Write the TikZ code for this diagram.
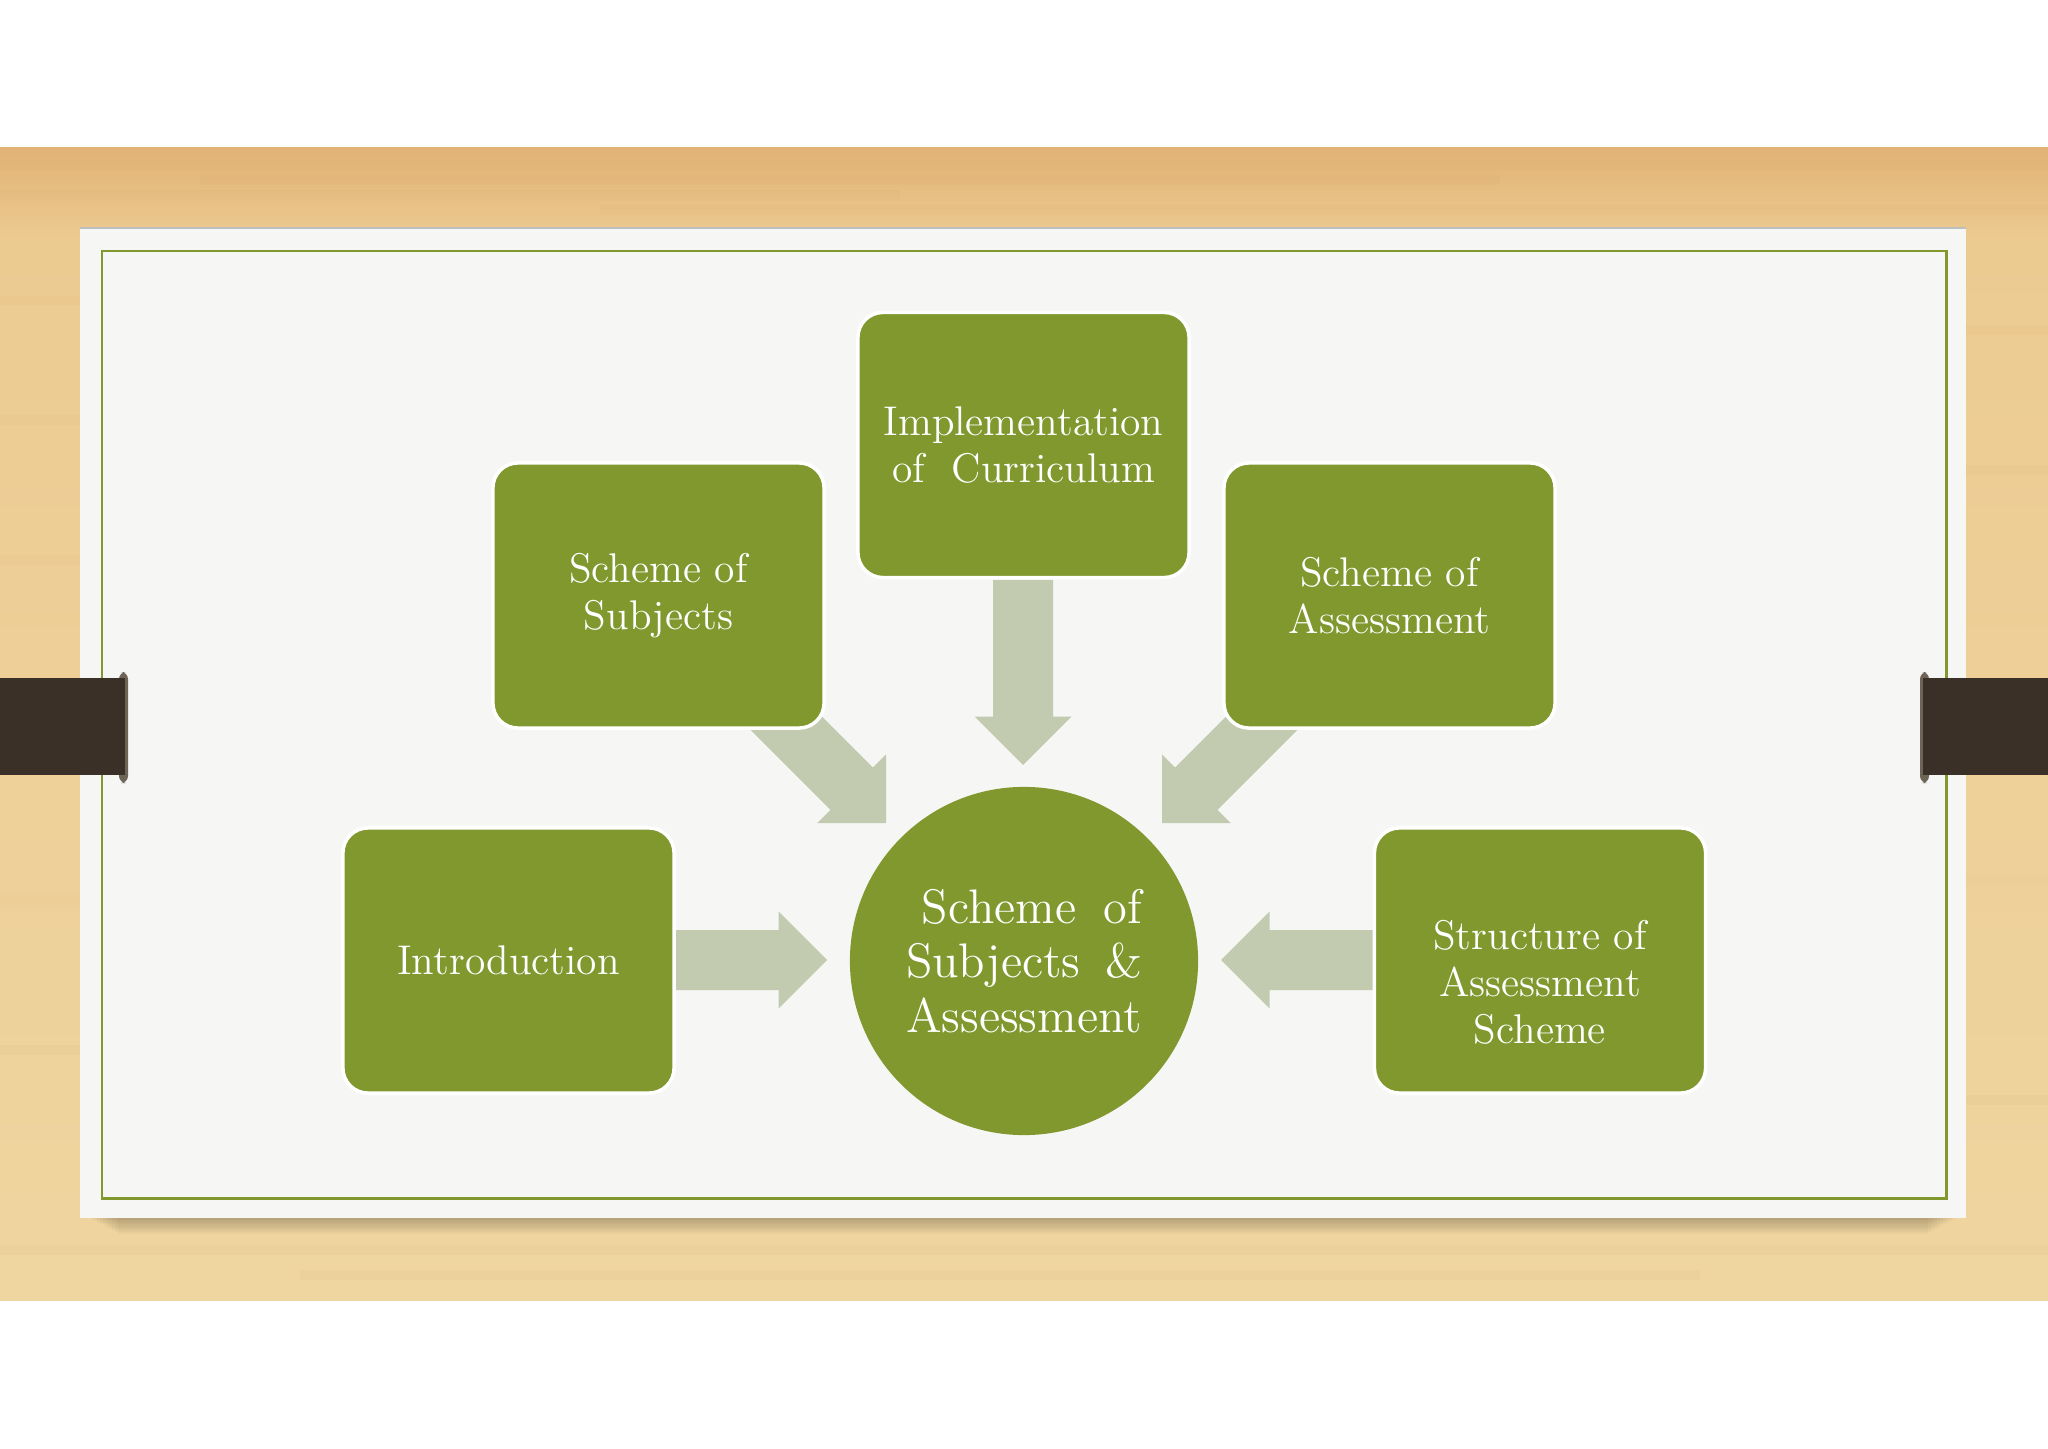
\documentclass[tikz,border=0pt]{standalone}
\definecolor{boxgreen}{RGB}{128,152,46}
\definecolor{arrowgray}{RGB}{194,203,176}
\definecolor{woodtop}{RGB}{226,178,118}
\definecolor{woodmid}{RGB}{236,203,145}
\definecolor{woodbot}{RGB}{239,213,160}
\definecolor{woodline}{RGB}{218,172,112}
\definecolor{cardbg}{RGB}{246,246,245}
\definecolor{clipbrown}{RGB}{59,48,39}
\definecolor{clipcap}{RGB}{110,100,86}
\newlength\hubw
\newcommand{\blockarrow}[3]{%
  \fill[arrowgray, shift={(#1)}, rotate=#2]
    (-#3,-30) -- (-48.5,-30) -- (-48.5,-48.5) -- (0,0) -- (-48.5,48.5) -- (-48.5,30) -- (-#3,30) -- cycle;}
\begin{document}
\begin{tikzpicture}[x=0.01cm,y=-0.01cm,
  box/.style={fill=boxgreen, draw=white, line width=1pt, rounded corners=0.25cm,
    minimum width=3.31cm, minimum height=2.65cm, text=white, align=center,
    inner sep=0pt, font=\fontsize{11.8}{13.4}\selectfont},
  boxtext/.style={text=white, align=center, inner sep=0pt, font=\fontsize{11.8}{13.4}\selectfont},
  hub/.style={circle, fill=boxgreen, minimum size=3.48cm, inner sep=0pt,
    text=white, align=center, font=\fontsize{13.8}{15.4}\selectfont}]
\useasboundingbox (0,0) rectangle (2048,1449);
\fill[white] (0,0) rectangle (2048,1449);
% wood
\shade[top color=woodtop, bottom color=woodmid] (0,148) rectangle (2048,240);
\shade[top color=woodmid, bottom color=woodbot] (0,240) rectangle (2048,1300);
\foreach \yy/\xa/\xb/\op in {165/0/2048/.18, 180/200/1500/.15, 195/0/900/.12, 210/600/2048/.1,
  300/0/80/.1, 420/0/80/.08, 560/0/80/.08, 900/0/80/.08, 1050/0/80/.1,
  330/1966/2048/.1, 470/1966/2048/.08, 880/1966/2048/.08, 1100/1966/2048/.1,
  1250/0/2048/.08, 1275/300/1700/.08}
  \draw[woodline, opacity=\op, line width=3pt] (\xa,\yy) -- (\xb,\yy);
% card shadow
\foreach \i in {1,...,10}
  \fill[black, opacity=0.025] (88+\i*3,1205) rectangle (1958-\i*3,1218+\i*1.6);
% card
\fill[cardbg] (80,228) rectangle (1966,1218);
\draw[black!25, line width=0.5pt] (80,228) -- (1966,228);
\draw[boxgreen, line width=0.85pt] (102,251) rectangle (1946,1198);
% clips
\fill[clipcap, rounded corners=2pt] (119,672) rectangle (128,783);
\fill[clipbrown] (0,678) rectangle (125,775);
\fill[clipcap, rounded corners=2pt] (1920,672) rectangle (1929,783);
\fill[clipbrown] (1923,678) rectangle (2048,775);
% arrow tips
\coordinate (tipN) at (1023,765);
\coordinate (tipNW) at (886,823);
\coordinate (tipNE) at (1162,823);
\coordinate (tipW) at (827,960);
\coordinate (tipE) at (1221,960);
\blockarrow{tipN}{-90}{185}
\blockarrow{tipNW}{-45}{190}
\blockarrow{tipNE}{-135}{190}
\blockarrow{tipW}{0}{152}
\blockarrow{tipE}{180}{152}
% boxes
\node[box] (impl) at (1023.5,445) {Implementation\\of\ \ Curriculum};
\node[box] (subj) at (658.5,595.5) {Scheme of\\Subjects};
\node[box] (assess) at (1389.5,595.5) {Scheme of\\Assessment};
\node[box] (intro) at (508.5,960.5) {Introduction};
\node[box] (struct) at (1540,960.5) {};
\node[boxtext] (structtext) at (1540,982) {Structure of\\Assessment\\Scheme};
\node[hub] (hub) at (1024,961) {\settowidth{\hubw}{Assessment}\global\hubw=\hubw
  \makebox[\hubw][s]{\ Scheme\hfill of}\\\makebox[\hubw][s]{Subjects\hfill\&}\\Assessment};
\end{tikzpicture}
\end{document}
